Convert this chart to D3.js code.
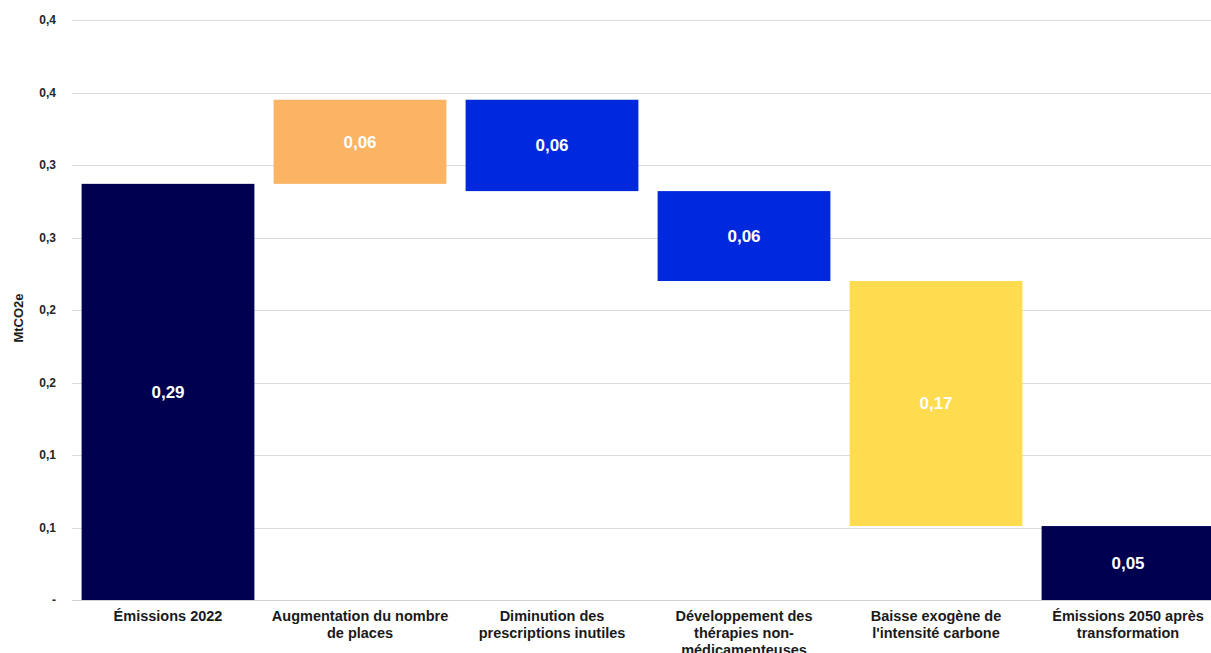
<!DOCTYPE html>
<html>
<head>
<meta charset="utf-8">
<script src="https://cdn.jsdelivr.net/npm/d3@7"></script>
<style>
  html, body { margin: 0; padding: 0; background: #fff; overflow: hidden; }
  svg { display: block; font-family: "Liberation Sans", Arial, sans-serif; }
</style>
</head>
<body>
<svg id="chart" width="1211" height="653"></svg>
<script>
// Waterfall steps: emissions 2022, then the successive increases/decreases, then 2050 total
const categories = [
  "Émissions 2022",
  "Augmentation du nombre\nde places",
  "Diminution des\nprescriptions inutiles",
  "Développement des\nthérapies non-\nmédicamenteuses",
  "Baisse exogène de\nl'intensité carbone",
  "Émissions 2050 après\ntransformation"
];
// kind: total bars start from zero, deltas float on the running total
const kinds = ["total", "up", "down", "down", "down", "total"];
const values = [0.287, 0.058, 0.063, 0.062, 0.169, 0.051];
const colors = ["#000050", "#FAB464", "#0028DC", "#0028DC", "#FFDB50", "#000050"];

const tickValues = [0, 0.05, 0.1, 0.15, 0.2, 0.25, 0.3, 0.35, 0.4];
const tickLabels = ["-", "0,1", "0,1", "0,2", "0,2", "0,3", "0,3", "0,4", "0,4"];

const svg = d3.select("#chart");
const margin = { left: 72, top: 20, bottom: 53 };
const height = 653;
const bandStep = 192;
const plotRight = margin.left + bandStep * categories.length;

const x = d3.scaleBand()
  .domain(categories)
  .range([margin.left, plotRight])
  .paddingInner(0.1)
  .paddingOuter(0.05);

const y = d3.scaleLinear()
  .domain([0, 0.4])
  .range([height - margin.bottom, margin.top]);

// Compute floating segments
let running = 0;
const segs = categories.map((c, i) => {
  let lo, hi;
  if (kinds[i] === "total") { lo = 0; hi = values[i]; running = values[i]; }
  else if (kinds[i] === "up") { lo = running; hi = running + values[i]; running = hi; }
  else { hi = running; lo = running - values[i]; running = lo; }
  return { cat: c, lo, hi, v: values[i], color: colors[i] };
});

// Gridlines
svg.append("g")
  .selectAll("line")
  .data(tickValues)
  .join("line")
  .attr("x1", margin.left)
  .attr("x2", 1211)
  .attr("y1", d => Math.round(y(d)) + 0.5)
  .attr("y2", d => Math.round(y(d)) + 0.5)
  .attr("stroke", d => d === 0 ? "#d0d0d0" : "#dcdcdc")
  .attr("stroke-width", 1);

// Y axis tick labels
const yAxis = d3.axisLeft(y)
  .tickValues(tickValues)
  .tickFormat((d, i) => tickLabels[i])
  .tickSize(0)
  .tickPadding(0);
const gy = svg.append("g")
  .attr("transform", `translate(56,0)`)
  .call(yAxis);
gy.select(".domain").remove();
gy.selectAll("text")
  .attr("font-family", "Liberation Sans, Arial, sans-serif")
  .attr("font-size", 12)
  .attr("font-weight", "bold")
  .attr("fill", "#262626");

// Y axis title
svg.append("text")
  .attr("transform", "translate(23,318) rotate(-90)")
  .attr("text-anchor", "middle")
  .attr("font-size", 13)
  .attr("font-weight", "bold")
  .attr("fill", "#1a1a1a")
  .text("MtCO2e");

// Bars
svg.append("g")
  .selectAll("rect")
  .data(segs)
  .join("rect")
  .attr("x", d => x(d.cat))
  .attr("width", x.bandwidth())
  .attr("y", d => y(d.hi))
  .attr("height", d => y(d.lo) - y(d.hi))
  .attr("fill", d => d.color);

// Value labels
const fmt = v => d3.format(".2f")(v).replace(".", ",");
svg.append("g")
  .selectAll("text")
  .data(segs)
  .join("text")
  .attr("x", d => x(d.cat) + x.bandwidth() / 2)
  .attr("y", d => (y(d.lo) + y(d.hi)) / 2)
  .attr("dy", "0.35em")
  .attr("text-anchor", "middle")
  .attr("font-size", 17)
  .attr("font-weight", "bold")
  .attr("fill", "#ffffff")
  .text(d => fmt(d.v));

// Category labels
const xAxis = d3.axisBottom(x).tickSize(0).tickFormat("");
const gx = svg.append("g")
  .attr("transform", `translate(0,${height - margin.bottom})`)
  .call(xAxis);
gx.select(".domain").remove();
gx.selectAll(".tick").each(function(d) {
  const lines = d.split("\n");
  const t = d3.select(this).append("text")
    .attr("text-anchor", "middle")
    .attr("font-family", "Liberation Sans, Arial, sans-serif")
    .attr("font-size", 14.5)
    .attr("font-weight", "bold")
    .attr("fill", "#1a1a1a");
  lines.forEach((ln, i) => {
    t.append("tspan").attr("x", 0).attr("y", 21 + i * 17).text(ln);
  });
});
</script>
</body>
</html>
